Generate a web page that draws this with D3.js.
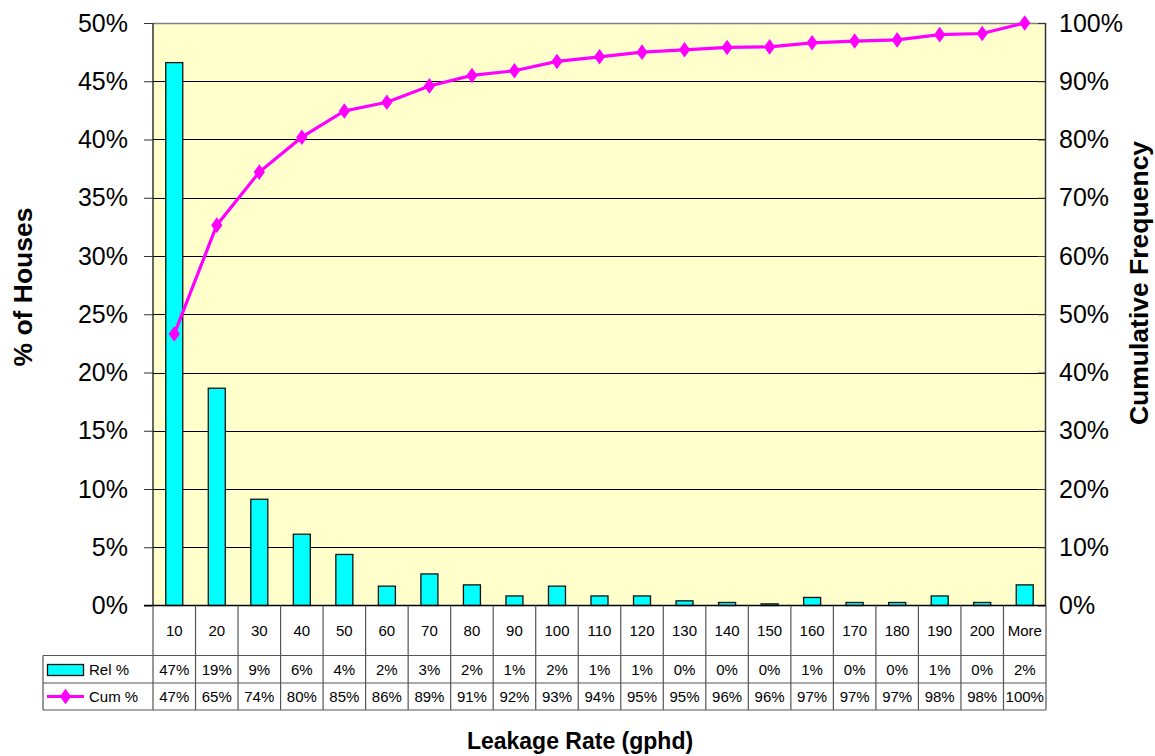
<!DOCTYPE html>
<html><head><meta charset="utf-8">
<script src="https://cdn.jsdelivr.net/npm/d3@7"></script>
<style>
html,body{margin:0;padding:0;background:#fff;}
svg{display:block;font-family:Arial,"Liberation Sans",sans-serif;}
</style></head>
<body>
<svg id="c" width="1155" height="756"></svg>
<script>
const categories = ["10","20","30","40","50","60","70","80","90","100","110","120","130","140","150","160","170","180","190","200","More"];
const relValues = [46.6,18.65,9.12,6.12,4.38,1.66,2.71,1.77,0.82,1.66,0.82,0.82,0.40,0.26,0.14,0.69,0.26,0.26,0.82,0.26,1.77];
const cumValues = [46.6,65.3,74.4,80.4,84.9,86.4,89.2,91.0,91.8,93.4,94.2,95.0,95.4,95.8,95.9,96.6,96.9,97.1,98.0,98.2,100];
const relLabels = ["47%","19%","9%","6%","4%","2%","3%","2%","1%","2%","1%","1%","0%","0%","0%","1%","0%","0%","1%","0%","2%"];
const cumLabels = ["47%","65%","74%","80%","85%","86%","89%","91%","92%","93%","94%","95%","95%","96%","96%","97%","97%","97%","98%","98%","100%"];
const leftTicks = [0,5,10,15,20,25,30,35,40,45,50];
const rightTicks = [0,10,20,30,40,50,60,70,80,90,100];

const svg = d3.select("#c");
const L = 153, R = 1046, T = 23, B = 605.5;
const rowCat = 655.5, rowRel = 683, rowCum = 710, tableLeft = 43;

const x = d3.scaleBand().domain(categories).range([L, R]).padding(0);
const yL = d3.scaleLinear().domain([0, 50]).range([B, T]);
const yR = d3.scaleLinear().domain([0, 100]).range([B, T]);

// plot background
svg.append("rect").attr("x", L).attr("y", T).attr("width", R - L).attr("height", B - T).attr("fill", "#FFFFCC");

// gridlines
svg.append("g").selectAll("line").data(leftTicks.filter(d => d > 0 && d < 50)).join("line")
  .attr("x1", L).attr("x2", R).attr("y1", d => Math.round(yL(d)) + 0.5).attr("y2", d => Math.round(yL(d)) + 0.5)
  .attr("stroke", "#000").attr("stroke-width", 1);

// top border
svg.append("line").attr("x1", L).attr("x2", R).attr("y1", T + 0.5).attr("y2", T + 0.5).attr("stroke", "#808080").attr("stroke-width", 1.5);
// right border
svg.append("line").attr("x1", R - 0.5).attr("x2", R - 0.5).attr("y1", T).attr("y2", B).attr("stroke", "#333").attr("stroke-width", 1.5);

// bars
const bw = x.bandwidth() * 0.4;
svg.append("g").selectAll("rect").data(relValues).join("rect")
  .attr("x", (d, i) => x(categories[i]) + (x.bandwidth() - bw) / 2)
  .attr("y", d => yL(d))
  .attr("width", bw)
  .attr("height", d => B - yL(d))
  .attr("fill", "#00FFFF").attr("stroke", "#111").attr("stroke-width", 1.3);

// left axis
const gL = svg.append("g").attr("transform", `translate(${L},0)`)
  .call(d3.axisLeft(yL).tickValues(leftTicks).tickFormat(d => d + "%").tickSize(9).tickPadding(16));
gL.select(".domain").attr("stroke", "#333").attr("stroke-width", 1.5).attr("d", `M0,${T}V${B}`);
gL.selectAll(".tick line").attr("stroke", "#333");
gL.selectAll(".tick text").attr("font-size", 25).attr("fill", "#000").attr("font-family", "Arial, 'Liberation Sans', sans-serif");

// right axis (labels)
const gR = svg.append("g").attr("transform", `translate(${R},0)`)
  .call(d3.axisRight(yR).tickValues(rightTicks).tickFormat(d => d + "%").tickSizeInner(-8).tickSizeOuter(0).tickPadding(13));
gR.select(".domain").remove();
gR.selectAll(".tick line").attr("stroke", "#333");
gR.selectAll(".tick text").attr("font-size", 25).attr("fill", "#000").attr("font-family", "Arial, 'Liberation Sans', sans-serif");

// bottom axis line
svg.append("line").attr("x1", L - 9).attr("x2", R).attr("y1", B).attr("y2", B).attr("stroke", "#000").attr("stroke-width", 1.5);

// cumulative line
const cx = (d, i) => x(categories[i]) + x.bandwidth() / 2;
const line = d3.line().x((d, i) => cx(d, i)).y(d => yR(d));
svg.append("path").datum(cumValues).attr("d", line).attr("fill", "none").attr("stroke", "#FF00FF").attr("stroke-width", 3.2);
const dia = d3.symbol().type(d3.symbolDiamond).size(70);
svg.append("g").selectAll("path").data(cumValues).join("path")
  .attr("d", dia).attr("transform", (d, i) => `translate(${cx(d, i)},${yR(d)}) scale(1.25,1)`)
  .attr("fill", "#FF00FF");

// data table
const tg = svg.append("g").attr("stroke", "#555").attr("stroke-width", 1.2);
const bounds = categories.map(c => x(c)).concat([R]);
tg.selectAll("line.v").data(bounds).join("line").attr("class", "v")
  .attr("x1", d => d).attr("x2", d => d).attr("y1", B).attr("y2", rowCum);
[[L, rowCat], [tableLeft, rowCat], [tableLeft, rowRel], [tableLeft, rowCum]].forEach(([x1, y]) => {
  tg.append("line").attr("x1", x1).attr("x2", R).attr("y1", y).attr("y2", y);
});
tg.append("line").attr("x1", tableLeft).attr("x2", tableLeft).attr("y1", rowCat).attr("y2", rowCum);

const txt = svg.append("g").attr("font-size", 15).attr("fill", "#000").attr("text-anchor", "middle");
txt.selectAll("text.cat").data(categories).join("text").attr("class", "cat")
  .attr("x", d => x(d) + x.bandwidth() / 2).attr("y", (B + rowCat) / 2 + 5.5).text(d => d);
txt.selectAll("text.rel").data(relLabels).join("text").attr("class", "rel")
  .attr("x", (d, i) => x(categories[i]) + x.bandwidth() / 2).attr("y", (rowCat + rowRel) / 2 + 5.5).text(d => d);
txt.selectAll("text.cum").data(cumLabels).join("text").attr("class", "cum")
  .attr("x", (d, i) => x(categories[i]) + x.bandwidth() / 2).attr("y", (rowRel + rowCum) / 2 + 5.5).text(d => d);

// legend keys
svg.append("rect").attr("x", 47.5).attr("y", 664.5).attr("width", 36).attr("height", 11)
  .attr("fill", "#00FFFF").attr("stroke", "#111").attr("stroke-width", 1.3);
svg.append("text").attr("x", 89).attr("y", (rowCat + rowRel) / 2 + 5.5).attr("font-size", 15).text("Rel %");
svg.append("line").attr("x1", 47).attr("x2", 84).attr("y1", (rowRel + rowCum) / 2).attr("y2", (rowRel + rowCum) / 2)
  .attr("stroke", "#FF00FF").attr("stroke-width", 3.2);
svg.append("path").attr("d", dia).attr("transform", `translate(65.5,${(rowRel + rowCum) / 2}) scale(1.25,1)`).attr("fill", "#FF00FF");
svg.append("text").attr("x", 89).attr("y", (rowRel + rowCum) / 2 + 5.5).attr("font-size", 15).text("Cum %");

// axis titles
svg.append("text").attr("transform", "translate(32,287) rotate(-90)").attr("text-anchor", "middle")
  .attr("font-size", 26.5).attr("font-weight", "bold").text("% of Houses");
svg.append("text").attr("transform", "translate(1148,283) rotate(-90)").attr("text-anchor", "middle")
  .attr("font-size", 26.5).attr("font-weight", "bold").text("Cumulative Frequency");
svg.append("text").attr("x", 580).attr("y", 749).attr("text-anchor", "middle")
  .attr("font-size", 23).attr("font-weight", "bold").text("Leakage Rate (gphd)");
</script>
</body></html>
